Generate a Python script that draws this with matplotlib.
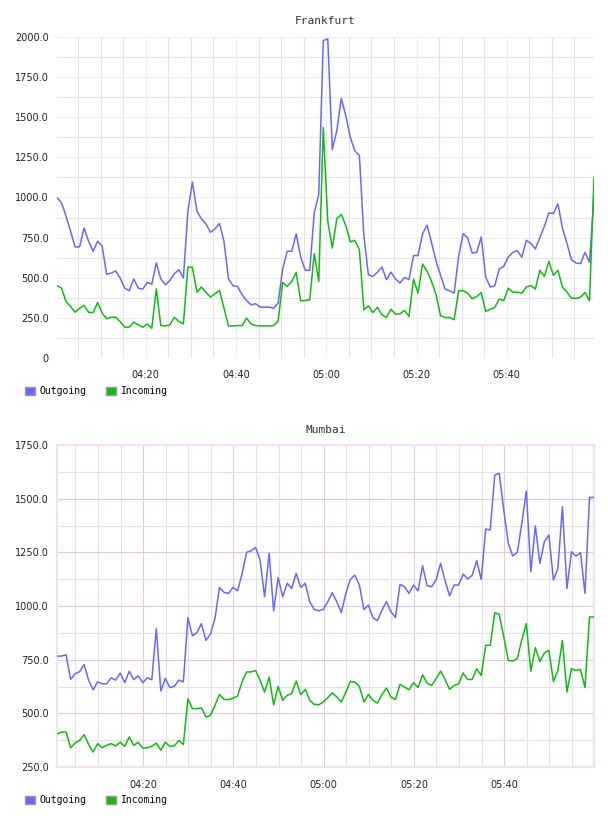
''' bandwidth per site, two stacked panels '''
import numpy as np
import pandas as pd
import matplotlib
matplotlib.use('Agg')
import matplotlib.pyplot as plt
import matplotlib.dates as mdates
from matplotlib.ticker import FixedLocator, FuncFormatter
from matplotlib.patches import Patch

# Frankfurt, one sample per minute
frankfurt_start = '2013-01-01 04:00:20'
frankfurt_out = [
    1000, 967, 883, 790, 692, 692, 810, 727, 665, 727, 696, 521, 529, 542, 498, 435, 419, 492, 435, 429,
    471, 460, 592, 492, 456, 483, 525, 550, 498, 915, 1096, 915, 867, 835, 783, 804, 838, 727, 492, 450,
    446, 394, 358, 331, 338, 317, 317, 317, 310, 342, 554, 665, 665, 773, 629, 546, 546, 904, 1019, 1977,
    1988, 1300, 1415, 1617, 1508, 1373, 1290, 1262, 760, 519, 508, 535, 567, 488, 535, 492, 467, 502, 488, 638,
    638, 773, 827, 717, 602, 515, 429, 419, 404, 633, 775, 748, 654, 658, 754, 504, 442, 450, 554, 571,
    629, 658, 669, 627, 733, 714, 679, 750, 821, 904, 900, 960, 810, 714, 613, 592, 588, 658, 596, 1000,
]
frankfurt_in = [
    450, 435, 352, 321, 285, 310, 327, 285, 283, 346, 279, 244, 254, 254, 227, 192, 192, 223, 206, 192,
    212, 185, 431, 202, 200, 206, 254, 227, 212, 567, 565, 410, 442, 409, 379, 400, 421, 310, 200, 200,
    202, 202, 248, 212, 202, 200, 200, 200, 202, 231, 471, 446, 477, 533, 356, 358, 363, 650, 477, 1435,
    852, 685, 867, 894, 825, 723, 733, 675, 300, 325, 283, 315, 269, 252, 304, 273, 275, 296, 258, 492,
    404, 585, 540, 477, 394, 263, 252, 252, 238, 419, 419, 404, 369, 383, 408, 290, 304, 315, 367, 358,
    435, 410, 410, 404, 442, 452, 429, 546, 508, 602, 515, 546, 442, 410, 373, 371, 379, 408, 356, 1125,
]

# Mumbai, one sample per minute
mumbai_start = '2013-01-01 04:00:55'
mumbai_out = [
    767, 767, 773, 658, 685, 694, 728, 654, 610, 647, 638, 638, 666, 655, 688, 643, 696, 657, 675, 643,
    666, 657, 894, 604, 663, 620, 626, 655, 647, 946, 862, 876, 918, 840, 870, 941, 1087, 1064, 1059, 1087,
    1071, 1149, 1250, 1258, 1273, 1214, 1043, 1245, 978, 1133, 1043, 1106, 1082, 1152, 1087, 1106, 1020, 984, 978, 984,
    1020, 1062, 1020, 969, 1059, 1124, 1144, 1098, 984, 1004, 946, 932, 981, 1020, 973, 947, 1101, 1090, 1059, 1098,
    1071, 1188, 1095, 1090, 1121, 1199, 1118, 1047, 1098, 1098, 1149, 1126, 1143, 1211, 1124, 1359, 1354, 1610, 1618, 1447,
    1292, 1233, 1250, 1385, 1536, 1160, 1373, 1199, 1300, 1331, 1121, 1175, 1463, 1082, 1253, 1233, 1248, 1059, 1506, 1506,
]
mumbai_in = [
    405, 413, 413, 340, 362, 374, 401, 355, 320, 359, 340, 351, 359, 348, 366, 346, 390, 351, 365, 338,
    340, 346, 362, 328, 366, 346, 349, 374, 355, 568, 522, 522, 526, 483, 491, 537, 588, 565, 564, 571,
    581, 646, 693, 693, 700, 654, 599, 669, 540, 626, 561, 584, 592, 651, 587, 612, 561, 542, 540, 553,
    573, 596, 576, 553, 599, 649, 646, 626, 553, 588, 561, 548, 588, 618, 576, 565, 635, 623, 610, 643,
    620, 680, 641, 630, 661, 697, 657, 612, 630, 638, 688, 658, 658, 708, 677, 817, 817, 969, 961, 856,
    747, 744, 755, 843, 918, 696, 806, 742, 781, 793, 649, 700, 840, 599, 708, 700, 705, 620, 949, 949,
]

OUT_COLOR = '#6868ff'
IN_COLOR = '#11bb11'

fig = plt.figure(figsize=(6.08, 8.16), dpi=100)


def draw_panel(rect, title, start, outgoing, incoming, ylo, yhi, major_color, minor_color, frame_color):
    ax = fig.add_axes(rect)
    times = pd.date_range(start, periods=len(outgoing), freq='1min')
    ax.plot(times, outgoing, color=OUT_COLOR, lw=1.1, zorder=3)
    ax.plot(times, incoming, color=IN_COLOR, lw=1.1, zorder=3)
    ax.set_xlim(times[0], times[-1])
    ax.set_ylim(ylo, yhi)

    ax.xaxis.set_major_locator(mdates.MinuteLocator(byminute=[0, 20, 40]))
    ax.xaxis.set_minor_locator(mdates.MinuteLocator(byminute=range(0, 60, 5)))
    ax.xaxis.set_major_formatter(mdates.DateFormatter('%H:%M'))
    ax.yaxis.set_major_locator(FixedLocator(np.arange(ylo, yhi + 1, 250)))
    ax.yaxis.set_minor_locator(FixedLocator(np.arange(ylo + 125, yhi, 250)))
    ax.yaxis.set_major_formatter(FuncFormatter(lambda v, p: '0' if v == 0 else '%.1f' % v))

    ax.grid(which='major', color=major_color, lw=0.8, zorder=1)
    ax.grid(which='minor', color=minor_color, lw=0.8, zorder=0)
    ax.tick_params(which='both', length=0, labelsize=7, colors='#222222')
    ax.tick_params(axis='x', pad=9)
    ax.tick_params(axis='y', pad=6)
    for sp in ax.spines.values():
        if frame_color is None:
            sp.set_visible(False)
        else:
            sp.set_color(frame_color)
            sp.set_linewidth(1.5)

    ax.set_title(title, family='DejaVu Sans Mono', fontsize=8, color='#333333', pad=9)

    handles = [Patch(facecolor=OUT_COLOR, edgecolor='#999999', label='Outgoing'),
               Patch(facecolor=IN_COLOR, edgecolor='#999999', label='Incoming')]
    ax.legend(handles=handles, loc='upper left', bbox_to_anchor=(-0.067, -0.076), ncol=2,
              frameon=False, handlelength=1.0, handleheight=1.0, handletextpad=0.5,
              columnspacing=2.0, borderaxespad=0, prop={'family': 'DejaVu Sans Mono', 'size': 7})
    return ax


draw_panel([0.0938, 0.5613, 0.8832, 0.3934], 'Frankfurt', frankfurt_start,
           frankfurt_out, frankfurt_in, 0, 2000, '#eeeeee', '#e4e4e4', None)
draw_panel([0.0938, 0.0600, 0.8832, 0.3946], 'Mumbai', mumbai_start,
           mumbai_out, mumbai_in, 250, 1750, '#e2c8e2', '#e2e2e2', '#f0e2f0')

fig.savefig('out.png', dpi=100)
